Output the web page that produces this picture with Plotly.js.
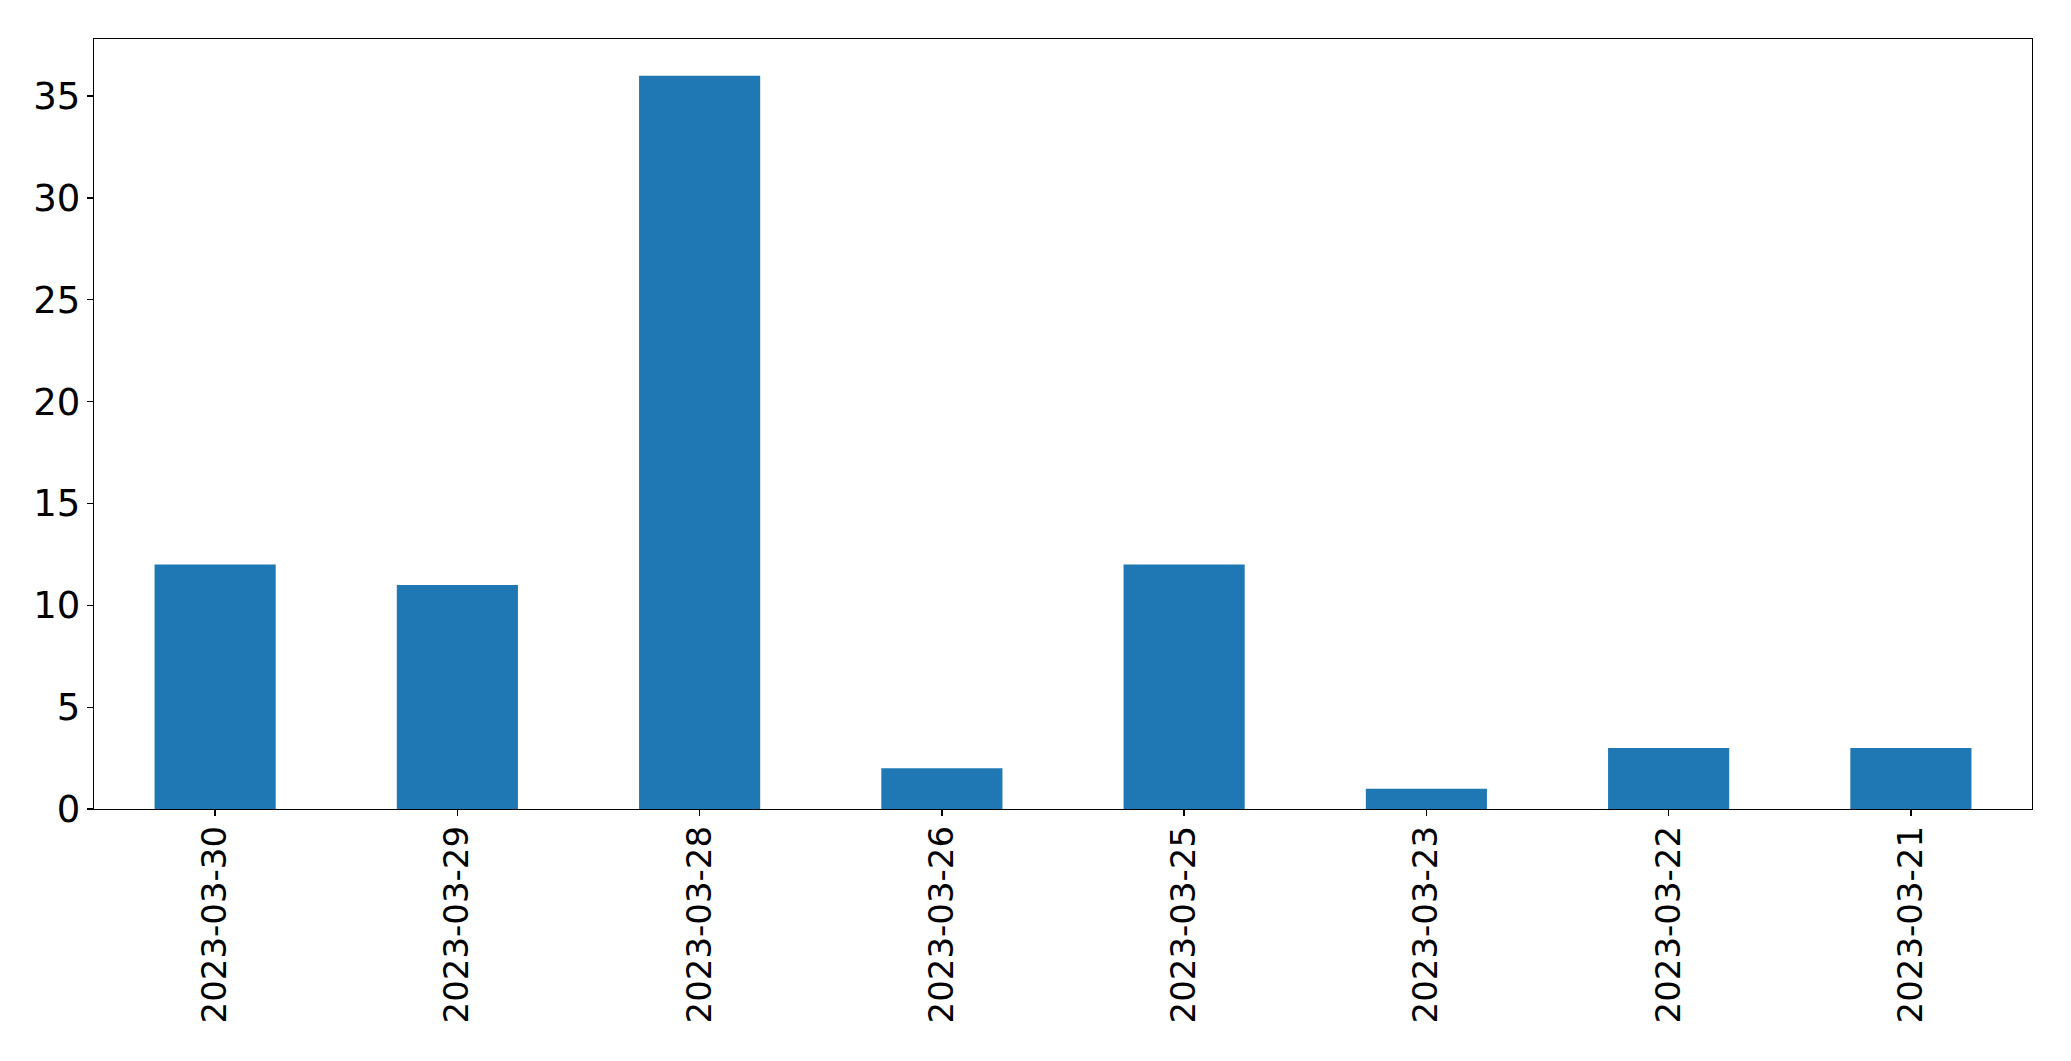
<!DOCTYPE html>
<html>
<head>
<meta charset="utf-8">
<script src="https://cdn.plot.ly/plotly-3.0.1.min.js"></script>
<style>html,body{margin:0;padding:0;background:#fff;}#chart{width:2071px;height:1061px;}</style>
</head>
<body>
<div id="chart"></div>
<script>
const dates = ["2023-03-30","2023-03-29","2023-03-28","2023-03-26","2023-03-25","2023-03-23","2023-03-22","2023-03-21"];
const counts = [12, 11, 36, 2, 12, 1, 3, 3];
const yTicks = [0, 5, 10, 15, 20, 25, 30, 35];

const trace = {
  type: 'bar',
  x: dates,
  y: counts,
  width: 0.5,
  marker: {color: '#1f77b4', line: {width: 0}},
  hoverinfo: 'x+y'
};

const layout = {
  width: 2071,
  height: 1061,
  margin: {l: 94, r: 39, t: 39, b: 252, pad: 0},
  paper_bgcolor: '#ffffff',
  plot_bgcolor: '#ffffff',
  showlegend: false,
  font: {family: 'DejaVu Sans', size: 34, color: '#000000'},
  xaxis: {
    type: 'category',
    range: [-0.5, 7.5],
    showline: true, linecolor: '#000000', linewidth: 1.3, mirror: true,
    showgrid: false, zeroline: false,
    ticks: 'outside', ticklen: 6, tickwidth: 1.3, tickcolor: '#000000',
    tickangle: -90,
    ticklabelstandoff: -4,
    tickfont: {family: 'DejaVu Sans', size: 34, color: '#000000'}
  },
  yaxis: {
    range: [0, 37.8],
    tickvals: yTicks,
    ticktext: yTicks.map(String),
    showline: true, linecolor: '#000000', linewidth: 1.3, mirror: true,
    showgrid: false, zeroline: false,
    ticks: 'outside', ticklen: 6, tickwidth: 1.3, tickcolor: '#000000',
    ticklabelstandoff: -1,
    tickfont: {family: 'DejaVu Sans', size: 37, color: '#000000'}
  }
};

Plotly.newPlot('chart', [trace], layout, {displayModeBar: false, staticPlot: true});
</script>
</body>
</html>
